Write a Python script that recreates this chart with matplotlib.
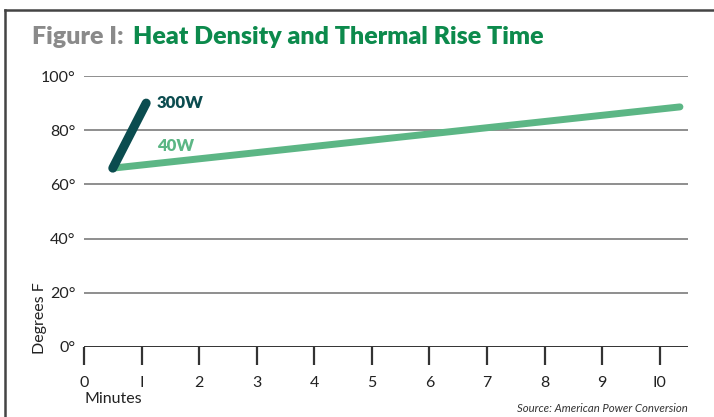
import matplotlib
matplotlib.use('Agg')
import matplotlib.pyplot as plt
from matplotlib.lines import Line2D

plt.rcParams['font.family'] = ['Lato', 'DejaVu Sans']

# data
minutes_300w = [0.5, 1.08]
temps_300w = [66, 90]
minutes_40w = [0.5, 10.35]
temps_40w = [66, 88.6]
xticks = list(range(0, 11))
xtick_labels = ['0', 'I', '2', '3', '4', '5', '6', '7', '8', '9', 'I0']
yticks = [0, 20, 40, 60, 80, 100]
ytick_labels = ['0°', '20°', '40°', '60°', '80°', '100°']

dark_teal = '#0b4c4f'
light_green = '#5cb685'
title_green = '#0c8a4c'

fig = plt.figure(figsize=(7.14, 4.17), dpi=100)
ax = fig.add_axes([84/714, 1-347/417, (688-84)/714, (347-76)/417])

ax.plot(minutes_40w, temps_40w, color=light_green, linewidth=5, solid_capstyle='round', zorder=3)
ax.plot(minutes_300w, temps_300w, color=dark_teal, linewidth=6.5, solid_capstyle='round', zorder=4)

ax.text(1.27, 90, '300W', color=dark_teal, fontsize=12, fontweight='heavy', va='center')
ax.text(1.27, 74, '40W', color=light_green, fontsize=12, fontweight='heavy', va='center')

ax.set_xlim(0, 10.49)
ax.set_ylim(0, 100)
for s in ax.spines.values():
    s.set_visible(False)
for y in yticks[1:]:
    ax.axhline(y, color='#707070', linewidth=1.1, zorder=1)
ax.axhline(0, color='#222222', linewidth=1.3, zorder=2)

ax.set_xticks(xticks)
ax.set_xticklabels(xtick_labels)
ax.set_yticks(yticks)
ax.set_yticklabels(ytick_labels)
ax.tick_params(axis='x', direction='out', length=13, width=1.6, color='#333333',
               labelsize=11.5, pad=8, labelcolor='#222222')
ax.tick_params(axis='y', length=0, labelsize=11.5, pad=6, labelcolor='#222222')

fig.text(84/714, 1-399/417, 'Minutes', fontsize=11.5, color='#222222', va='center', ha='left')
fig.text(40/714, 1-318/417, 'Degrees F', fontsize=11.5, color='#222222', va='center', ha='center',
         rotation=90)
fig.text(688/714, 1-409/417, 'Source: American Power Conversion', fontsize=8.2, style='italic',
         color='#333333', ha='right', va='center')

fig.text(32/714, 1-37/417, 'Figure I:', fontsize=18, fontweight='heavy', color='#8a8a8a',
         va='center', ha='left')
fig.text(133/714, 1-37/417, 'Heat Density and Thermal Rise Time', fontsize=18, fontweight='heavy',
         color=title_green, va='center', ha='left')

# frame border at top and left
fig.add_artist(Line2D([5/714, 5/714], [0, 1-10/417], color='#444444', linewidth=1.8))
fig.add_artist(Line2D([5/714, 1], [1-10/417, 1-10/417], color='#444444', linewidth=1.8))

fig.savefig('out.png', dpi=100)
